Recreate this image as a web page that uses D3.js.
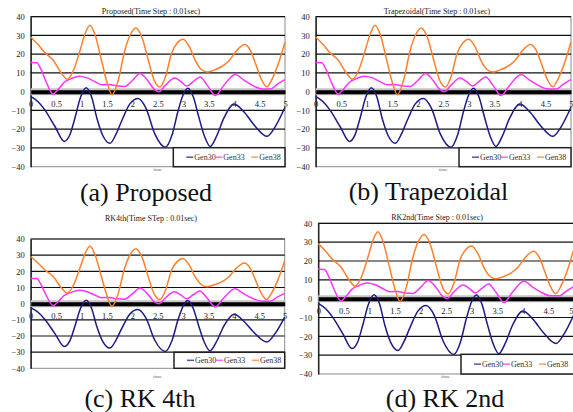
<!DOCTYPE html>
<html><head><meta charset="utf-8">
<script src="https://cdn.jsdelivr.net/npm/d3@7"></script>
<style>
html,body{margin:0;padding:0;background:#fff;}
svg text{font-family:"Liberation Serif","Times New Roman","DejaVu Serif",serif !important;}
</style></head>
<body>
<svg id="chart" width="573" height="412"></svg>
<script>
// ---- data ----
const yTicks = [40, 30, 20, 10, 0, -10, -20, -30, -40];
const xTicks = [0, 0.5, 1, 1.5, 2, 2.5, 3, 3.5, 4, 4.5, 5];
const seriesNames = ["Gen30", "Gen33", "Gen38"];
const seriesColors = ["#1b1b85", "#ff33ff", "#ff7f2a"];

const t30 = [0,0.15,0.28,0.48,0.66,0.77,0.87,0.98,1.09,1.2,1.3,1.42,1.56,1.68,1.79,1.95,2.11,2.27,2.44,2.65,2.78,2.9,3.0,3.09,3.2,3.3,3.42,3.53,3.65,3.8,4.0,4.2,4.4,4.65,4.8,5.0];
const gen30 = [-2.5,-5.5,-9.8,-18.7,-26.5,-23,-14,-3,2.1,-3,-14,-23.5,-27.5,-22.5,-15.5,-6.5,-3.6,-9,-22.5,-29.6,-23,-10,-1.5,1.9,-3,-13,-24,-29.2,-24,-14,-6.5,-11,-18,-23.8,-19,-8.3];

const t33 = [0,0.12,0.2,0.3,0.44,0.55,0.65,0.8,0.95,1.1,1.25,1.4,1.55,1.7,1.85,2.0,2.15,2.3,2.42,2.52,2.65,2.83,2.95,3.07,3.2,3.33,3.47,3.63,3.8,4.02,4.2,4.35,4.55,4.72,4.85,5.0];
const gen33 = [15.6,15.5,12,5.5,-1.2,1.5,4.8,7,8.3,7.5,5.5,3.7,3.8,3,2.8,6,9.7,6,1.5,0,3.5,7.3,5.5,3,5.5,7.8,3.5,-2,3.5,9.2,6,3.5,1.5,1.5,4,6.4];

const t38 = [0,0.15,0.28,0.44,0.6,0.72,0.85,0.97,1.07,1.165,1.27,1.39,1.5,1.6,1.72,1.85,1.96,2.07,2.2,2.31,2.43,2.54,2.65,2.77,2.88,3.0,3.12,3.23,3.35,3.47,3.6,3.75,3.9,4.05,4.21,4.32,4.42,4.53,4.64,4.75,4.87,5.0];
const gen38 = [29.2,25,20.8,16.9,10,6.6,12,22,31,35.5,30,17,5,-1.6,6,22,30.5,34,28,17,6,2.5,8,20.5,26,28,24,17,12,10.5,11.5,13.3,16.5,22,25.2,22,15,7,2.6,7,15,26.5];

const seriesT = [t30, t33, t38];
const seriesV = [gen30, gen33, gen38];

const FONT = "Liberation Serif, Times New Roman, DejaVu Serif, serif";

const panels = [
  {title:"Proposed(Time Step : 0.01sec)", caption:"(a) Proposed",
   L:30.7, R:285, T:16.7, B:166.7, titleX:151, titleY:14, capX:146, capY:201, legTop:147.7, legLeft:173.3, timeY:171},
  {title:"Trapezoidal(Time Step : 0.01sec)", caption:"(b) Trapezoidal",
   L:315.7, R:571, T:16.7, B:166.7, titleX:437, titleY:14, capX:428.5, capY:200, legTop:147.7, legLeft:459, timeY:171},
  {title:"RK4th(Time STep : 0.01sec)", caption:"(c) RK 4th",
   L:30.7, R:284.7, T:239, B:368.3, titleX:151, titleY:220.7, capX:140, capY:407, legTop:352.3, legLeft:174, timeY:378},
  {title:"RK2nd(Time Step : 0.01sec)", caption:"(d) RK 2nd",
   L:318.3, R:574, T:223.3, B:374, titleX:437, titleY:220, capX:445, capY:407, legTop:354.3, legLeft:461, timeY:378}
];

const svg = d3.select("#chart");

panels.forEach(p => {
  const g = svg.append("g");
  const x = d3.scaleLinear().domain([0, 5]).range([p.L, p.R]);
  const y = d3.scaleLinear().domain([-40, 40]).range([p.B, p.T]);

  g.append("rect").attr("x", p.L).attr("y", p.T).attr("width", p.R - p.L).attr("height", p.B - p.T)
    .attr("fill", "#fff").attr("stroke", "#8a8a8a").attr("stroke-width", 1);

  g.selectAll("line.grid").data(yTicks.filter(v => v !== 0 && v !== -40)).enter().append("line")
    .attr("x1", p.L).attr("x2", p.R).attr("y1", d => y(d)).attr("y2", d => y(d))
    .attr("stroke", "#111").attr("stroke-width", 1.2);

  const yAxis = d3.axisLeft(y).tickValues(yTicks).tickSize(0).tickPadding(6);
  const ya = g.append("g").attr("transform", `translate(${p.L},0)`).call(yAxis).attr("font-family", FONT);
  ya.select(".domain").attr("stroke", "#111").attr("stroke-width", 1.3);
  ya.selectAll("text").attr("font-size", 8.5).attr("fill", "#222");

  g.append("line").attr("x1", p.L).attr("x2", p.R).attr("y1", y(0)).attr("y2", y(0))
    .attr("stroke", "#c4c4c4").attr("stroke-width", 7);
  const xAxis = d3.axisBottom(x).tickValues(xTicks).tickSize(0).tickPadding(9).tickFormat(d3.format("~g"));
  const xa = g.append("g").attr("transform", `translate(0,${y(0)})`).call(xAxis).attr("font-family", FONT);
  xa.select(".domain").attr("stroke", "#000").attr("stroke-width", 4);
  xa.selectAll("text").attr("font-size", 8.5).attr("fill", "#222")
    .attr("text-anchor", function(d) { return x(d) > 568 ? "end" : "middle"; })
    .attr("x", function(d) { return x(d) > 568 ? 573 - x(d) : 0; });

  const line = d3.line().curve(d3.curveMonotoneX);
  seriesNames.forEach((name, i) => {
    const pts = seriesT[i].map((t, k) => [x(t), y(seriesV[i][k])]);
    g.append("path").attr("d", line(pts)).attr("fill", "none")
      .attr("stroke", seriesColors[i]).attr("stroke-width", 1.5);
  });

  const lg = g.append("g").attr("transform", `translate(${p.legLeft},${p.legTop})`);
  lg.append("rect").attr("x", 0).attr("y", 0).attr("width", p.R - p.legLeft).attr("height", p.B - p.legTop)
    .attr("fill", "#fff").attr("stroke", "#222").attr("stroke-width", 1.5);
  const lh = (p.B - p.legTop) / 2;
  const itemX = [13, 42, 78];
  seriesNames.forEach((name, i) => {
    lg.append("line").attr("x1", itemX[i]).attr("x2", itemX[i] + 7).attr("y1", lh).attr("y2", lh)
      .attr("stroke", seriesColors[i]).attr("stroke-width", 1.5).attr("opacity", 0.75);
    lg.append("text").attr("x", itemX[i] + 8).attr("y", lh + 3).attr("font-size", 8)
      .attr("font-family", FONT).attr("fill", "#333").text(name);
  });

  g.append("text").attr("x", (p.L + Math.min(p.R, 573)) / 2).attr("y", p.timeY).attr("text-anchor", "middle")
    .attr("font-size", 5).attr("font-family", FONT).attr("fill", "#666").text("time");

  g.append("text").attr("x", p.titleX).attr("y", p.titleY).attr("text-anchor", "middle")
    .attr("font-size", 8).attr("font-family", FONT).attr("fill", "#222").text(p.title);

  svg.append("text").attr("x", p.capX).attr("y", p.capY).attr("text-anchor", "middle")
    .attr("font-size", 26).attr("font-family", FONT).attr("fill", "#111").text(p.caption);
});
</script>
</body></html>
